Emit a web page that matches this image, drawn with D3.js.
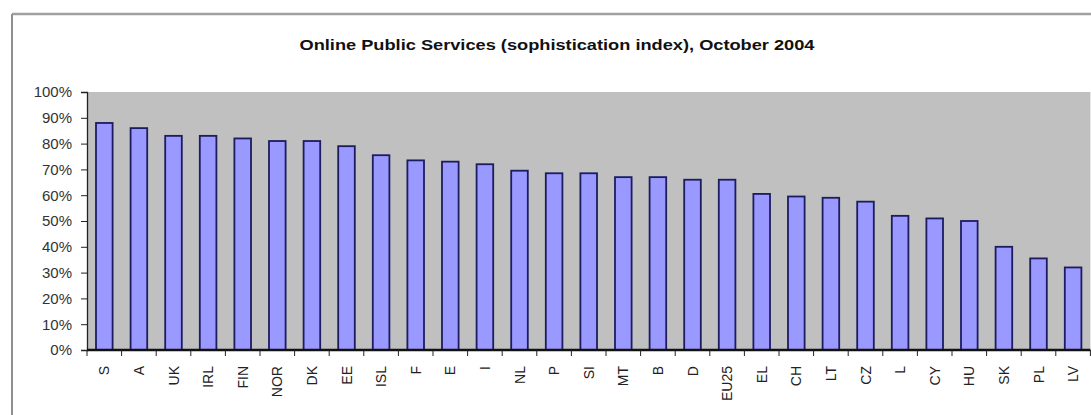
<!DOCTYPE html>
<html>
<head>
<meta charset="utf-8">
<title>Online Public Services</title>
<style>
  body { margin: 0; background: #fff; }
  svg { display: block; font-family: "Liberation Sans", Arial, sans-serif; }
</style>
</head>
<body>
<svg width="1091" height="415"></svg>
<script src="https://d3js.org/d3.v7.min.js"></script>
<script>
  // data
  const countries = ["S","A","UK","IRL","FIN","NOR","DK","EE","ISL","F","E","I","NL","P","SI",
                     "MT","B","D","EU25","EL","CH","LT","CZ","L","CY","HU","SK","PL","LV"];
  const scores = [88,86,83,83,82,81,81,79,75.5,73.5,73,72,69.5,68.5,68.5,
                  67,67,66,66,60.5,59.5,59,57.5,52,51,50,40,35.5,32];
  const yTicks = [0,10,20,30,40,50,60,70,80,90,100];
  const title = "Online Public Services (sophistication index), October 2004";

  const svg = d3.select("svg");
  const plot = {left: 87, top: 92, bottom: 350, step: 34.6};
  plot.right = plot.left + plot.step * countries.length;

  // chart frame
  svg.append("line").attr("x1", 12).attr("x2", 1091).attr("y1", 14).attr("y2", 14)
    .attr("stroke", "#a0a0a0").attr("stroke-width", 2.5);
  svg.append("line").attr("x1", 12).attr("x2", 12).attr("y1", 14).attr("y2", 415)
    .attr("stroke", "#909090").attr("stroke-width", 2);

  svg.append("text")
    .attr("x", 557).attr("y", 50)
    .attr("text-anchor", "middle")
    .attr("font-size", 15).attr("font-weight", "bold")
    .attr("fill", "#111")
    .attr("textLength", 515).attr("lengthAdjust", "spacingAndGlyphs")
    .text(title);

  const x = d3.scaleBand()
    .domain(countries)
    .range([plot.left, plot.right])
    .paddingInner(0.52).paddingOuter(0.26);

  const y = d3.scaleLinear().domain([0, 100]).range([plot.bottom, plot.top]);

  svg.append("rect")
    .attr("x", plot.left).attr("y", plot.top)
    .attr("width", plot.right - plot.left).attr("height", plot.bottom - plot.top)
    .attr("fill", "#c0c0c0");

  svg.append("g")
    .selectAll("rect")
    .data(countries)
    .join("rect")
    .attr("x", d => x(d))
    .attr("y", (d, i) => y(scores[i]))
    .attr("width", x.bandwidth())
    .attr("height", (d, i) => y(0) - y(scores[i]))
    .attr("fill", "#9999ff")
    .attr("stroke", "#1c1c60")
    .attr("stroke-width", 1.8);

  // y axis
  const yAxis = svg.append("g")
    .attr("transform", `translate(${plot.left},0)`)
    .call(d3.axisLeft(y).tickValues(yTicks).tickFormat(d => d + "%").tickSize(6).tickPadding(9));
  yAxis.select(".domain").attr("stroke", "#222").attr("stroke-width", 1.3);
  yAxis.selectAll(".tick line").attr("stroke", "#222");
  yAxis.selectAll("text").attr("font-size", 15).attr("fill", "#333")
    .attr("font-family", "\"Liberation Sans\", Arial, sans-serif");

  // x axis: ticks between categories
  const xEdge = d3.scaleLinear().domain([0, countries.length]).range([plot.left, plot.right]);
  const xAxis = svg.append("g");
  xAxis.append("line")
    .attr("x1", plot.left).attr("x2", plot.right)
    .attr("y1", plot.bottom).attr("y2", plot.bottom)
    .attr("stroke", "#111").attr("stroke-width", 2.5);
  xAxis.selectAll("line.tk")
    .data(d3.range(countries.length + 1))
    .join("line")
    .attr("class", "tk")
    .attr("x1", d => xEdge(d)).attr("x2", d => xEdge(d))
    .attr("y1", plot.bottom).attr("y2", plot.bottom + 6)
    .attr("stroke", "#222");

  xAxis.selectAll("text")
    .data(countries)
    .join("text")
    .attr("transform", d => `translate(${x(d) + x.bandwidth() / 2 + 5},366) rotate(-90)`)
    .attr("text-anchor", "end")
    .attr("font-size", 14)
    .attr("fill", "#222")
    .text(d => d);
</script>
</body>
</html>
